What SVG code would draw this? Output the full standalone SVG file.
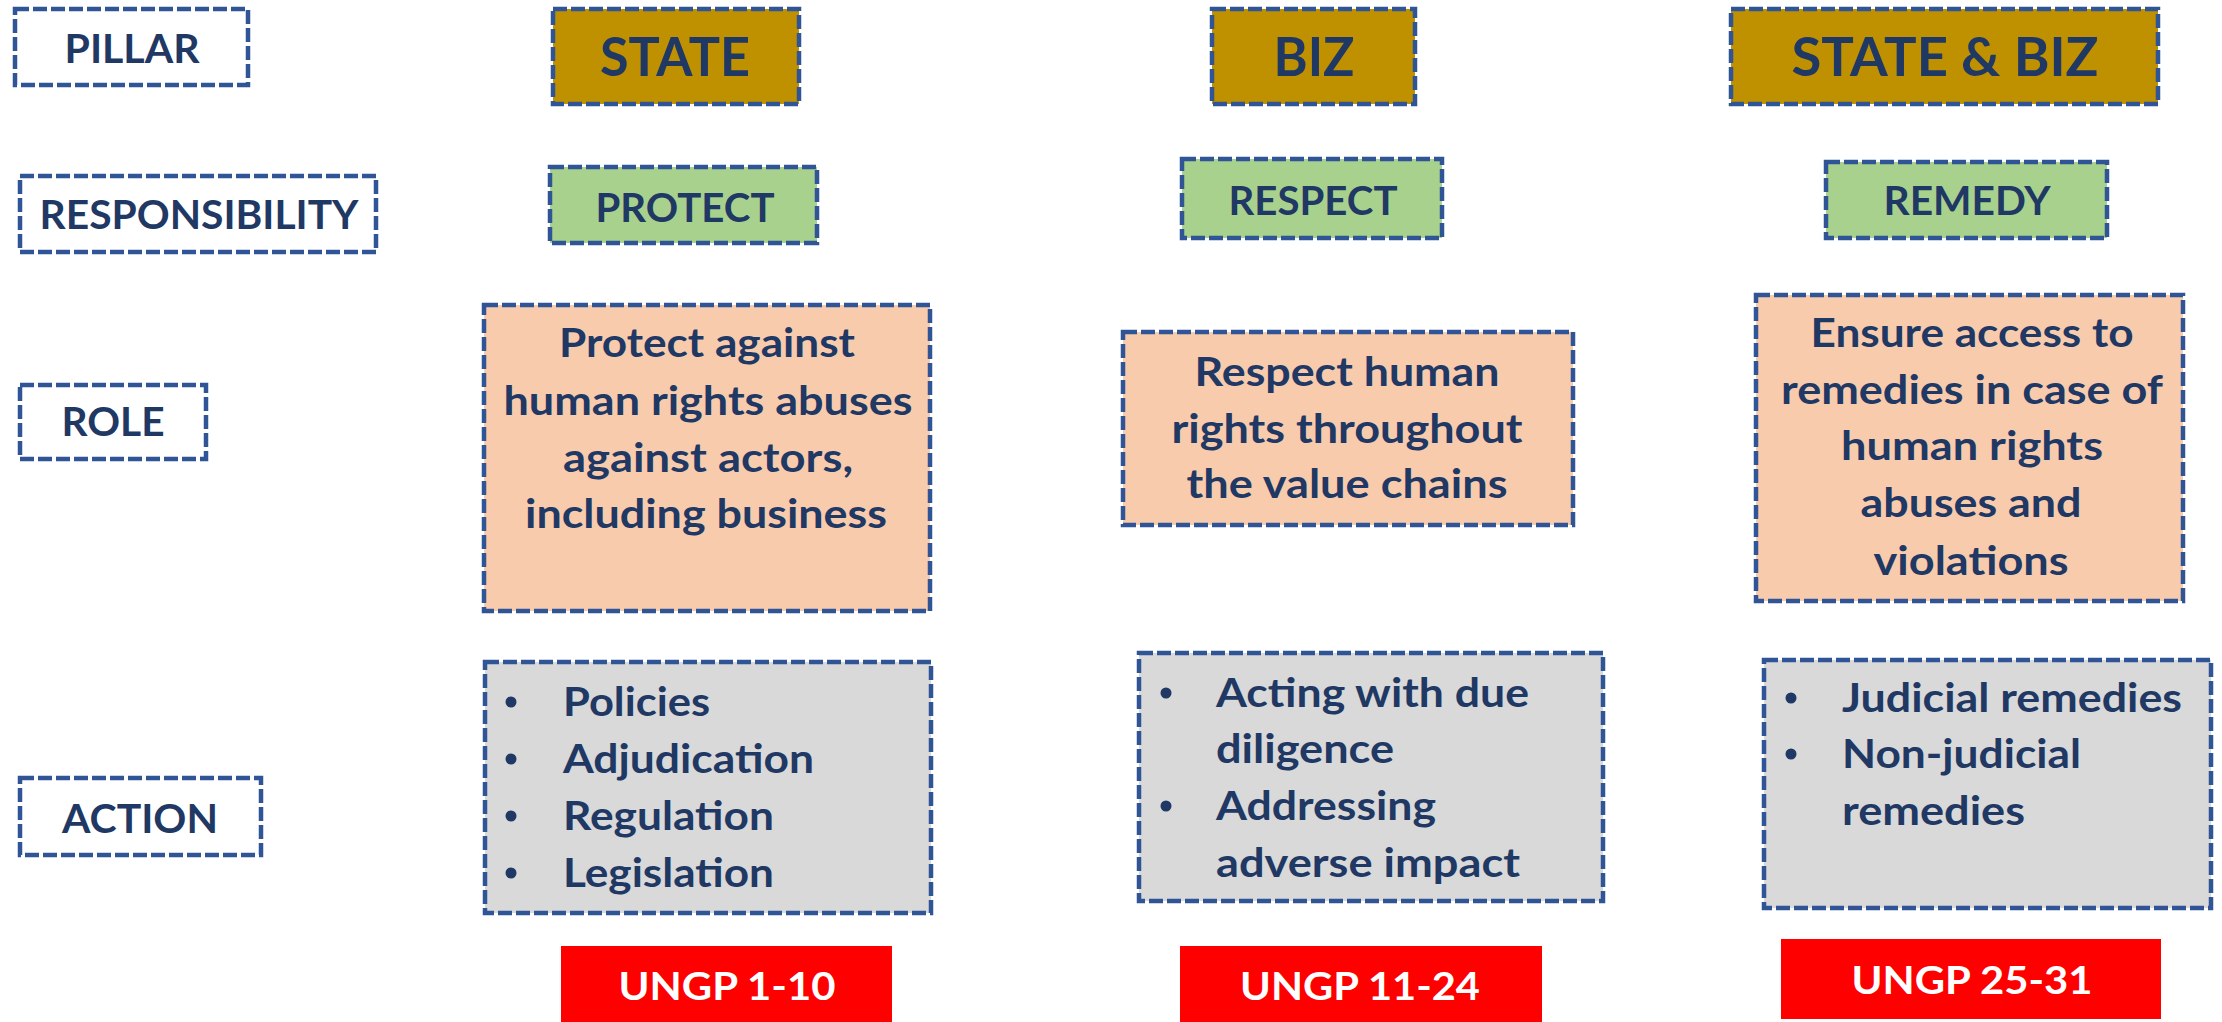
<svg xmlns="http://www.w3.org/2000/svg" width="2222" height="1022" viewBox="0 0 2222 1022">
  <style>
    .box { stroke: #2F5597; stroke-width: 4.5; stroke-dasharray: 14 4; }
    .plain { fill: #FFFFFF; }
    .gold { fill: #BF9000; }
    .green { fill: #A9D18E; }
    .peach { fill: #F8CBAD; }
    .grey { fill: #D9D9D9; }
    .red { fill: #FF0000; }
    text { font-family: Lato, "Liberation Sans", sans-serif; font-weight: 700; fill: #1F3864; }
    .t40 { font-size: 40px; }
    .t54 { font-size: 54px; }
    .mid { text-anchor: middle; }
    .ungp { font-size: 39px; fill: #FFFFFF; text-anchor: middle; }
    .dot { fill: #1F3864; }
  </style>
  <rect width="2222" height="1022" fill="#FFFFFF"/>

  <!-- row labels -->
  <g id="label-pillar">
    <rect class="box plain" x="15" y="9" width="233" height="76"/>
    <text class="t40 mid" x="132" y="63" textLength="135" lengthAdjust="spacingAndGlyphs">PILLAR</text>
  </g>
  <g id="label-responsibility">
    <rect class="box plain" x="20" y="176" width="356" height="76"/>
    <text class="t40 mid" x="199" y="229" textLength="319" lengthAdjust="spacingAndGlyphs">RESPONSIBILITY</text>
  </g>
  <g id="label-role">
    <rect class="box plain" x="20" y="385" width="186" height="74"/>
    <text class="t40 mid" x="113" y="436" textLength="103" lengthAdjust="spacingAndGlyphs">ROLE</text>
  </g>
  <g id="label-action">
    <rect class="box plain" x="20" y="778" width="241" height="77"/>
    <text class="t40 mid" x="140" y="833" textLength="156" lengthAdjust="spacingAndGlyphs">ACTION</text>
  </g>

  <!-- pillars -->
  <g id="pillar-state">
    <rect class="box gold" x="553" y="9" width="246" height="95"/>
    <text class="t54 mid" x="675" y="76" textLength="150" lengthAdjust="spacingAndGlyphs">STATE</text>
  </g>
  <g id="pillar-biz">
    <rect class="box gold" x="1212" y="9" width="203" height="95"/>
    <text class="t54 mid" x="1314" y="76" textLength="81" lengthAdjust="spacingAndGlyphs">BIZ</text>
  </g>
  <g id="pillar-state-biz">
    <rect class="box gold" x="1731" y="9" width="427" height="95"/>
    <text class="t54 mid" x="1945" y="76" textLength="307" lengthAdjust="spacingAndGlyphs">STATE &amp; BIZ</text>
  </g>

  <!-- responsibilities -->
  <g id="resp-protect">
    <rect class="box green" x="550" y="167" width="267" height="76"/>
    <text class="t40 mid" x="685" y="222" textLength="179" lengthAdjust="spacingAndGlyphs">PROTECT</text>
  </g>
  <g id="resp-respect">
    <rect class="box green" x="1182" y="159" width="260" height="79"/>
    <text class="t40 mid" x="1313" y="215" textLength="169" lengthAdjust="spacingAndGlyphs">RESPECT</text>
  </g>
  <g id="resp-remedy">
    <rect class="box green" x="1826" y="162" width="281" height="76"/>
    <text class="t40 mid" x="1967" y="215" textLength="167" lengthAdjust="spacingAndGlyphs">REMEDY</text>
  </g>

  <!-- roles -->
  <g id="role-state">
    <rect class="box peach" x="484" y="305" width="446" height="306"/>
    <text class="t40 mid" x="707" y="357" textLength="296" lengthAdjust="spacingAndGlyphs">Protect against</text>
    <text class="t40 mid" x="708" y="415" textLength="409" lengthAdjust="spacingAndGlyphs">human rights abuses</text>
    <text class="t40 mid" x="708" y="472" textLength="290" lengthAdjust="spacingAndGlyphs">against actors,</text>
    <text class="t40 mid" x="706" y="528" textLength="362" lengthAdjust="spacingAndGlyphs">including business</text>
  </g>
  <g id="role-biz">
    <rect class="box peach" x="1123" y="332" width="450" height="193"/>
    <text class="t40 mid" x="1347" y="386" textLength="305" lengthAdjust="spacingAndGlyphs">Respect human</text>
    <text class="t40 mid" x="1347" y="443" textLength="351" lengthAdjust="spacingAndGlyphs">rights throughout</text>
    <text class="t40 mid" x="1347" y="498" textLength="321" lengthAdjust="spacingAndGlyphs">the value chains</text>
  </g>
  <g id="role-state-biz">
    <rect class="box peach" x="1756" y="295" width="427" height="306"/>
    <text class="t40 mid" x="1972" y="347" textLength="323" lengthAdjust="spacingAndGlyphs">Ensure access to</text>
    <text class="t40 mid" x="1972" y="404" textLength="382" lengthAdjust="spacingAndGlyphs">remedies in case of</text>
    <text class="t40 mid" x="1972" y="460" textLength="262" lengthAdjust="spacingAndGlyphs">human rights</text>
    <text class="t40 mid" x="1971" y="517" textLength="221" lengthAdjust="spacingAndGlyphs">abuses and</text>
    <text class="t40 mid" x="1971" y="575" textLength="195" lengthAdjust="spacingAndGlyphs">violations</text>
  </g>

  <!-- actions -->
  <g id="action-state">
    <rect class="box grey" x="485" y="662" width="446" height="251"/>
    <circle class="dot" cx="511" cy="702" r="5.5"/>
    <circle class="dot" cx="511" cy="759" r="5.5"/>
    <circle class="dot" cx="511" cy="816" r="5.5"/>
    <circle class="dot" cx="511" cy="873" r="5.5"/>
    <text class="t40" x="563" y="716" textLength="147" lengthAdjust="spacingAndGlyphs">Policies</text>
    <text class="t40" x="563" y="773" textLength="251" lengthAdjust="spacingAndGlyphs">Adjudication</text>
    <text class="t40" x="563" y="830" textLength="211" lengthAdjust="spacingAndGlyphs">Regulation</text>
    <text class="t40" x="563" y="887" textLength="211" lengthAdjust="spacingAndGlyphs">Legislation</text>
  </g>
  <g id="action-biz">
    <rect class="box grey" x="1139" y="653" width="464" height="248"/>
    <circle class="dot" cx="1166" cy="693" r="5.5"/>
    <circle class="dot" cx="1166" cy="806" r="5.5"/>
    <text class="t40" x="1216" y="707" textLength="313" lengthAdjust="spacingAndGlyphs">Acting with due</text>
    <text class="t40" x="1216" y="763" textLength="178" lengthAdjust="spacingAndGlyphs">diligence</text>
    <text class="t40" x="1216" y="820" textLength="220" lengthAdjust="spacingAndGlyphs">Addressing</text>
    <text class="t40" x="1216" y="877" textLength="304" lengthAdjust="spacingAndGlyphs">adverse impact</text>
  </g>
  <g id="action-state-biz">
    <rect class="box grey" x="1764" y="660" width="447" height="248"/>
    <circle class="dot" cx="1791" cy="698" r="5.5"/>
    <circle class="dot" cx="1791" cy="754" r="5.5"/>
    <text class="t40" x="1842" y="712" textLength="340" lengthAdjust="spacingAndGlyphs">Judicial remedies</text>
    <text class="t40" x="1842" y="768" textLength="239" lengthAdjust="spacingAndGlyphs">Non-judicial</text>
    <text class="t40" x="1842" y="825" textLength="183" lengthAdjust="spacingAndGlyphs">remedies</text>
  </g>

  <!-- guiding principle references -->
  <g id="ungp-1-10">
    <rect class="red" x="561" y="946" width="331" height="80"/>
    <text class="ungp" x="727" y="1000" textLength="217" lengthAdjust="spacingAndGlyphs">UNGP 1-10</text>
  </g>
  <g id="ungp-11-24">
    <rect class="red" x="1180" y="946" width="362" height="80"/>
    <text class="ungp" x="1360" y="1000" textLength="240" lengthAdjust="spacingAndGlyphs">UNGP 11-24</text>
  </g>
  <g id="ungp-25-31">
    <rect class="red" x="1781" y="939" width="380" height="80"/>
    <text class="ungp" x="1972" y="994" textLength="241" lengthAdjust="spacingAndGlyphs">UNGP 25-31</text>
  </g>
</svg>
